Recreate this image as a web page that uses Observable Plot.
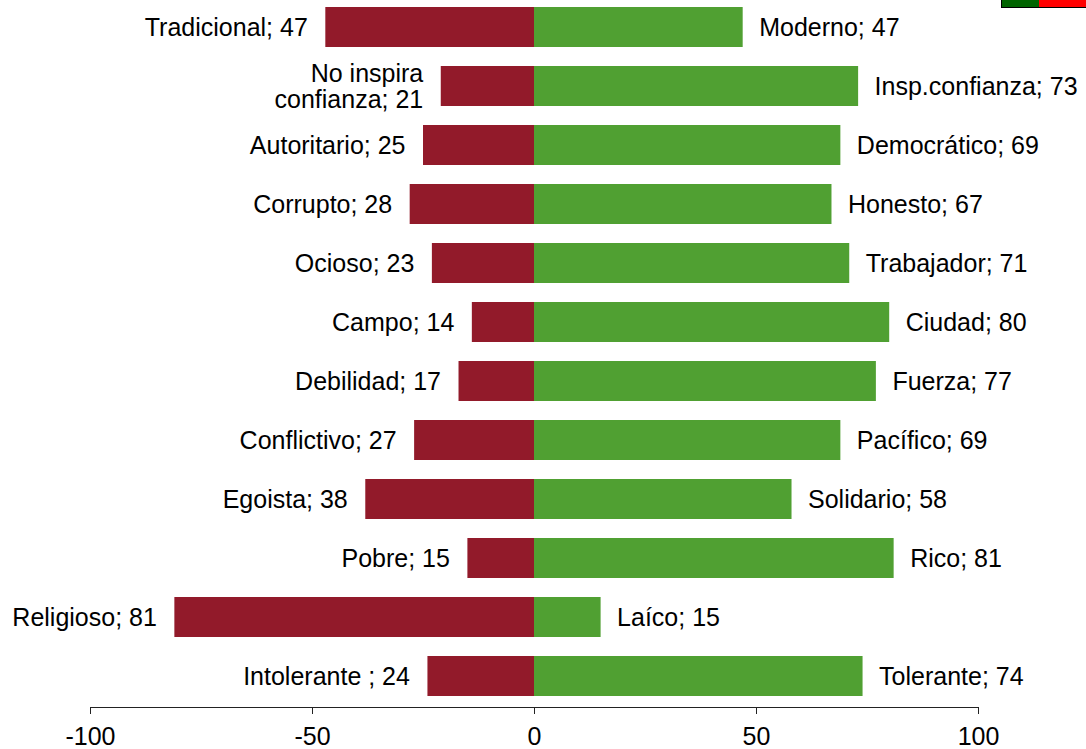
<!DOCTYPE html>
<html>
<head>
<meta charset="utf-8">
<script src="https://cdn.jsdelivr.net/npm/d3@7"></script>
<script src="https://cdn.jsdelivr.net/npm/@observablehq/plot@0.6"></script>
<style>
  html, body { margin: 0; padding: 0; background: #fff; overflow: hidden; }
  #wrap { position: relative; width: 1086px; height: 749px; overflow: hidden; }
  #legend { position: absolute; left: 1001px; top: -20px; width: 120px; height: 26px;
            border: 1px solid #000; display: flex; }
  #legend span { display: block; height: 100%; }
  svg { font-family: "Liberation Sans", Arial, sans-serif; }
</style>
</head>
<body>
<div id="wrap"><div id="legend"><span style="width:37px;background:#006400"></span><span style="flex:1;background:#ff0000"></span></div></div>
<script>
const leftNames = ["Tradicional", "No inspira\nconfianza", "Autoritario", "Corrupto", "Ocioso", "Campo",
  "Debilidad", "Conflictivo", "Egoista", "Pobre", "Religioso", "Intolerante "];
const leftValues = [47, 21, 25, 28, 23, 14, 17, 27, 38, 15, 81, 24];
const rightNames = ["Moderno", "Insp.confianza", "Democrático", "Honesto", "Trabajador", "Ciudad",
  "Fuerza", "Pacífico", "Solidario", "Rico", "Laíco", "Tolerante"];
const rightValues = [47, 73, 69, 67, 71, 80, 77, 69, 58, 81, 15, 74];
const xTicks = [-100, -50, 0, 50, 100];

const rows = leftNames.map((n, i) => ({
  key: n,
  left: -leftValues[i],
  right: rightValues[i],
  leftLabel: `${n}; ${leftValues[i]}`,
  rightLabel: `${rightNames[i]}; ${rightValues[i]}`
}));

const chart = Plot.plot({
  width: 1086,
  height: 749,
  marginTop: 0,
  marginBottom: 42,
  marginLeft: 90,
  marginRight: 108,
  style: {fontFamily: '"Liberation Sans", Arial, sans-serif', fontSize: "25px", background: "transparent"},
  x: {domain: [-100, 100], label: null},
  y: {domain: leftNames, paddingInner: 0.323, paddingOuter: 0.144, align: 0.41, axis: null, label: null},
  marks: [
    Plot.barX(rows, {y: "key", x1: 0, x2: "left", fill: "#921a2a"}),
    Plot.barX(rows, {y: "key", x1: 0, x2: "right", fill: "#50a032"}),
    Plot.text(rows, {y: "key", x: "left", text: "leftLabel", textAnchor: "end", dx: -18, fontSize: 25, fill: "#000", lineHeight: 1.05}),
    Plot.text(rows, {y: "key", x: "right", text: "rightLabel", textAnchor: "start", dx: 16, fontSize: 25, fill: "#000"}),
    Plot.frame({anchor: "bottom", stroke: "#222"}),
    Plot.axisX({ticks: xTicks, tickFormat: d => String(d), tickSize: 7, tickPadding: 13, fontSize: 25, stroke: "#222", fill: "#000", label: null})
  ]
});
document.getElementById("wrap").prepend(chart);
</script>
</body>
</html>
